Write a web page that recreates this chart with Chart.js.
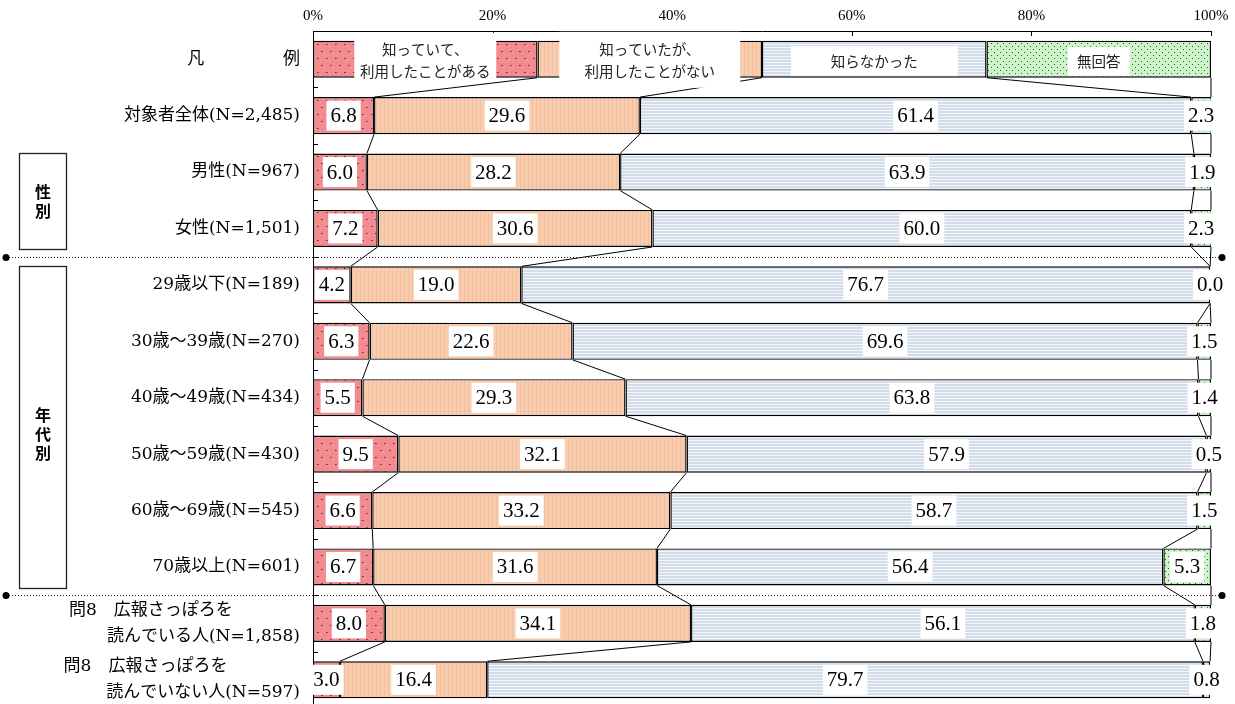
<!DOCTYPE html>
<html>
<head>
<meta charset="utf-8">
<script src="https://cdn.jsdelivr.net/npm/chart.js@4.4.1/dist/chart.umd.min.js"></script>
<style>
  html, body { margin: 0; padding: 0; background: #fff; overflow: hidden; }
  #wrap { position: relative; width: 1235px; height: 708px; }
</style>
</head>
<body>
<div id="wrap"><canvas id="myChart"></canvas></div>
<script>
let groups = [
  '凡　　　　  例',
  '対象者全体(N=2,485)',
  '男性(N=967)',
  '女性(N=1,501)',
  '29歳以下(N=189)',
  '30歳～39歳(N=270)',
  '40歳～49歳(N=434)',
  '50歳～59歳(N=430)',
  '60歳～69歳(N=545)',
  '70歳以上(N=601)',
  ['問8　広報さっぽろを　　　   ', '読んでいる人(N=1,858)'],
  ['問8　広報さっぽろを　　　    ', '読んでいない人(N=597)']
];
let seriesNames = ['知っていて、利用したことがある', '知っていたが、利用したことがない', '知らなかった', '無回答'];
let legendLines = [['知っていて、', '利用したことがある'], ['知っていたが、', '利用したことがない'], ['知らなかった'], ['無回答']];
let legendShare = [25, 25, 25, 25];
let usedIt = [6.8, 6.0, 7.2, 4.2, 6.3, 5.5, 9.5, 6.6, 6.7, 8.0, 3.0];
let knewNotUsed = [29.6, 28.2, 30.6, 19.0, 22.6, 29.3, 32.1, 33.2, 31.6, 34.1, 16.4];
let didNotKnow = [61.4, 63.9, 60.0, 76.7, 69.6, 63.8, 57.9, 58.7, 56.4, 56.1, 79.7];
let noAnswer = [2.3, 1.9, 2.3, 0.0, 1.5, 1.4, 0.5, 1.5, 5.3, 1.8, 0.8];
let xTicks = [0, 20, 40, 60, 80, 100];

let serif = '"Liberation Serif", "Noto Sans CJK JP", serif';
let wideSerif = '"DejaVu Serif", "Noto Sans CJK JP", serif';
let sideGroups = [
  { name: '性別', from: 2, to: 3, shift: 0 },
  { name: '年代別', from: 4, to: 9, shift: 6 }
];
let separatorsAfter = [3, 9];
let legendBoxStyle = [
  { w: 142, top: -26.4, bottom: 20.6, textY: -9.4 },
  { w: 181, top: -27.4, bottom: 28.6, textY: -9.4 },
  { w: 167, top: -13.4, bottom: 16.6, textY: 2.6 },
  { w: 62, top: -12.4, bottom: 16.6, textY: 2.6 }
];

let ctx = document.getElementById('myChart').getContext('2d');

function makePattern(w, h, bg, paint) {
  let c = document.createElement('canvas');
  c.width = w;
  c.height = h;
  let g = c.getContext('2d');
  g.fillStyle = bg;
  g.fillRect(0, 0, w, h);
  paint(g);
  return ctx.createPattern(c, 'repeat');
}

let redDots = makePattern(9, 14, '#F28B8F', (g) => {
  g.fillStyle = '#F6ADB0';
  g.fillRect(5, 4, 1, 1);
  g.fillRect(0, 11, 1, 1);
  g.fillStyle = '#7A2426';
  g.fillRect(2, 2, 1, 1);
  g.fillRect(6, 9, 1, 1);
  g.fillStyle = '#B0494C';
  g.fillRect(3, 2, 1, 1);
  g.fillRect(7, 9, 1, 1);
});
let peachDots = makePattern(4, 4, '#F8CBAD', (g) => {
  g.fillStyle = '#F3BF9F';
  g.fillRect(0, 0, 1, 4);
  g.fillStyle = '#FAD6BF';
  g.fillRect(2, 1, 1, 1);
});
let blueStripes = makePattern(1, 3, '#F3F6FA', (g) => {
  g.fillStyle = '#D3DDEA';
  g.fillRect(0, 0, 1, 2);
});
let greenDots = makePattern(6, 6, '#CDF3C9', (g) => {
  g.fillStyle = '#2F5A2F';
  g.fillRect(1, 1, 1, 1);
  g.fillRect(4, 4, 1, 1);
});

function noPad(s) {
  s.paddingTop = 0;
  s.paddingBottom = 0;
  s.paddingLeft = 0;
  s.paddingRight = 0;
}

const extras = {
  id: 'extras',
  afterDatasetsDraw(chart) {
    const c = chart.ctx;
    const area = chart.chartArea;
    const xs = chart.scales.x;
    const ys = chart.scales.y;
    const metas = chart.data.datasets.map((d, i) => chart.getDatasetMeta(i));
    const step = ys.getPixelForValue(1) - ys.getPixelForValue(0);
    c.save();

    // lines joining neighbouring bars
    c.strokeStyle = '#000';
    c.lineWidth = 1;
    for (let r = 0; r < groups.length - 1; r++) {
      metas.forEach((m) => {
        const a = m.data[r];
        const b = m.data[r + 1];
        c.beginPath();
        c.moveTo(Math.min(a.x, area.right), a.y + a.height / 2);
        c.lineTo(Math.min(b.x, area.right), b.y - b.height / 2);
        c.stroke();
      });
    }

    // inward tick marks
    xTicks.forEach((v) => {
      const px = Math.round(xs.getPixelForValue(v)) + 0.5;
      c.beginPath();
      c.moveTo(px, area.top);
      c.lineTo(px, area.top + 5);
      c.stroke();
    });
    for (let i = 1; i <= groups.length; i++) {
      const py = Math.round(area.top + i * step) + 0.5;
      c.beginPath();
      c.moveTo(area.left, py);
      c.lineTo(area.left + 5, py);
      c.stroke();
    }

    // dotted separators
    separatorsAfter.forEach((r) => {
      const py = Math.round((ys.getPixelForValue(r) + ys.getPixelForValue(r + 1)) / 2) + 0.5;
      c.setLineDash([1, 2]);
      c.strokeStyle = '#222';
      c.beginPath();
      c.moveTo(6, py);
      c.lineTo(1222, py);
      c.stroke();
      c.setLineDash([]);
      c.fillStyle = '#000';
      [6, 1222].forEach((px) => {
        c.beginPath();
        c.arc(px, py, 3.5, 0, Math.PI * 2);
        c.fill();
      });
    });

    // group boxes on the left
    c.strokeStyle = '#222';
    c.lineWidth = 1.3;
    c.textAlign = 'center';
    c.textBaseline = 'middle';
    sideGroups.forEach((g) => {
      const top = Math.round(ys.getPixelForValue(g.from) - 19) + 0.5;
      const bottom = Math.round(ys.getPixelForValue(g.to) + 21) + 0.5;
      c.strokeRect(19.5, top, 47, bottom - top);
      c.fillStyle = '#000';
      c.font = 'bold 16px "Noto Sans CJK JP"';
      const chars = [...g.name];
      const mid = (top + bottom) / 2 + g.shift;
      chars.forEach((ch, j) => c.fillText(ch, 43, mid + (j - (chars.length - 1) / 2) * 19));
    });

    // names on the legend row
    c.font = '14.5px "Noto Sans CJK JP"';
    legendLines.forEach((lines, k) => {
      const el = metas[k].data[0];
      const cx = (el.base + el.x) / 2;
      const st = legendBoxStyle[k];
      c.fillStyle = '#fff';
      c.fillRect(cx - st.w / 2, el.y + st.top, st.w, st.bottom - st.top);
      c.fillStyle = '#222';
      lines.forEach((t, j) => c.fillText(t, cx, el.y + st.textY + j * 22));
    });

    // value labels
    c.font = '21px ' + serif;
    chart.data.datasets.forEach((ds, k) => {
      for (let r = 1; r < ds.data.length; r++) {
        const el = metas[k].data[r];
        const cx = (el.base + Math.min(el.x, area.right)) / 2;
        const txt = ds.data[r].toFixed(1);
        const w = c.measureText(txt).width;
        c.fillStyle = '#fff';
        c.fillRect(cx - w / 2 - 4, el.y - 15, w + 8, 30);
        c.fillStyle = '#000';
        c.fillText(txt, cx, el.y + 1);
      }
    });
    c.restore();
  }
};

let myChart = new Chart(ctx, {
  type: 'bar',
  data: {
    labels: groups,
    datasets: [
      { label: seriesNames[0], data: [legendShare[0], ...usedIt], backgroundColor: redDots },
      { label: seriesNames[1], data: [legendShare[1], ...knewNotUsed], backgroundColor: peachDots },
      { label: seriesNames[2], data: [legendShare[2], ...didNotKnow], backgroundColor: blueStripes },
      { label: seriesNames[3], data: [legendShare[3], ...noAnswer], backgroundColor: greenDots }
    ]
  },
  options: {
    indexAxis: 'y',
    responsive: true,
    maintainAspectRatio: false,
    animation: false,
    events: [],
    layout: {
      padding: { left: 0, right: 24, top: 0, bottom: 0 }
    },
    datasets: {
      bar: {
        borderColor: '#000',
        borderWidth: 1.4,
        borderSkipped: false,
        barPercentage: 0.656,
        categoryPercentage: 1
      }
    },
    plugins: {
      legend: { display: false },
      tooltip: { enabled: false }
    },
    scales: {
      x: {
        position: 'top',
        stacked: true,
        min: 0,
        max: 100,
        afterFit: (s) => { s.height = 31; noPad(s); },
        grid: { display: false },
        border: { color: '#000', width: 1 },
        ticks: {
          stepSize: 20,
          maxRotation: 0,
          padding: -2,
          color: '#000',
          font: { family: serif, size: 15 },
          callback: (v) => v + '%'
        }
      },
      y: {
        stacked: true,
        afterFit: (s) => { s.width = 313; noPad(s); },
        grid: { display: false },
        border: { color: '#000', width: 1 },
        ticks: {
          autoSkip: false,
          padding: 5,
          color: '#000',
          font: { family: wideSerif, size: 17, lineHeight: 1.55 }
        }
      }
    }
  },
  plugins: [extras]
});
</script>
</body>
</html>
